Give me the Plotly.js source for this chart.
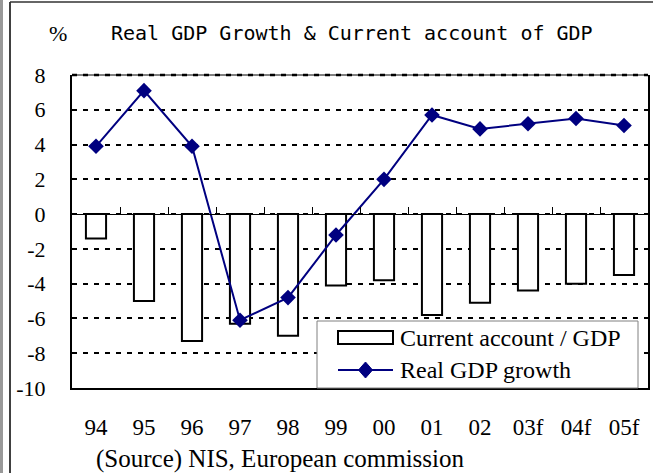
<!DOCTYPE html>
<html>
<head>
<meta charset="utf-8">
<script src="https://cdn.plot.ly/plotly-3.0.1.min.js"></script>
<style>html,body{margin:0;padding:0;background:#fff;}#chart{width:653px;height:473px;}</style>
</head>
<body>
<div id="chart"></div>
<script>
const years = ["94","95","96","97","98","99","00","01","02","03f","04f","05f"];
const currentAccount = [-1.4, -5.0, -7.3, -6.3, -7.0, -4.1, -3.8, -5.8, -5.1, -4.4, -4.0, -3.5];
const gdpGrowth = [3.9, 7.1, 3.9, -6.1, -4.8, -1.2, 2.0, 5.7, 4.9, 5.2, 5.5, 5.1];
const yTicks = [-10, -8, -6, -4, -2, 0, 2, 4, 6, 8];
const seriesNames = ['Current account / GDP', 'Real GDP growth'];

const L = 72, R = 648, T = 75, B = 388;
const W = R - L, H = B - T;
const px = x => (x - L) / W;
const py = y => (B - y) / H;

const NAVY = '#000080';

const traces = [
  {
    type: 'bar', x: years, y: currentAccount, name: seriesNames[0],
    width: 0.42, showlegend: false,
    marker: {color: '#ffffff', line: {color: '#000000', width: 2}}
  },
  {
    type: 'scatter', mode: 'lines+markers', x: years, y: gdpGrowth, name: seriesNames[1],
    showlegend: false,
    line: {color: NAVY, width: 2},
    marker: {symbol: 'diamond', size: 12, color: NAVY}
  },
  {
    type: 'scatter', x: [-0.5, 11.5], y: [0, 0], xaxis: 'x2', mode: 'none',
    showlegend: false, hoverinfo: 'skip'
  }
];

const serif = "'Liberation Serif', 'Times New Roman', serif";

// legend geometry (pixels)
const lg = {x0: 317, x1: 638, y0: 321, y1: 388, symX0: 338, symX1: 393, textX: 398, row1: 338, row2: 370};
const dia = (cx, cy, hw, hh) =>
  `M ${px(cx)},${py(cy - hh)} L ${px(cx + hw)},${py(cy)} L ${px(cx)},${py(cy + hh)} L ${px(cx - hw)},${py(cy)} Z`;

const layout = {
  width: 653, height: 473,
  margin: {l: L, r: 653 - R, t: T, b: 473 - B, pad: 0},
  paper_bgcolor: '#ffffff', plot_bgcolor: '#ffffff',
  font: {family: serif, size: 22, color: '#000'},
  barmode: 'overlay',
  showlegend: false,
  xaxis: {
    type: 'category', categoryarray: years, range: [-0.5, 11.5],
    showline: true, linecolor: '#000', linewidth: 2,
    showgrid: false, zeroline: false,
    ticks: 'outside', ticklen: 17, tickcolor: 'rgba(0,0,0,0)',
    tickfont: {family: serif, size: 23, color: '#000'}
  },
  xaxis2: {
    overlaying: 'x', anchor: 'free', position: 10 / 18,
    range: [-0.5, 11.5], tickmode: 'array',
    tickvals: [0.5,1.5,2.5,3.5,4.5,5.5,6.5,7.5,8.5,9.5,10.5],
    ticks: 'inside', ticklen: 7, tickwidth: 1, tickcolor: '#000',
    showticklabels: false, showline: true, linecolor: '#000', linewidth: 1,
    showgrid: false, zeroline: false
  },
  yaxis: {
    range: [-10, 8], tickmode: 'array', tickvals: yTicks, ticktext: yTicks.map(String),
    showline: true, mirror: true, linecolor: '#000', linewidth: 2,
    showgrid: true, gridcolor: '#000', gridwidth: 2, griddash: '5px,6px',
    zeroline: false,
    ticks: 'outside', ticklen: 20, tickcolor: 'rgba(0,0,0,0)',
    tickfont: {family: serif, size: 22, color: '#000'}
  },
  annotations: [
    {xref: 'paper', yref: 'paper', x: px(58), y: py(33), xanchor: 'center', yanchor: 'middle',
     text: '%', showarrow: false, font: {family: serif, size: 22}},
    {xref: 'paper', yref: 'paper', x: px(109), y: py(33), xanchor: 'left', yanchor: 'middle',
     text: 'Real GDP Growth & Current account of GDP', showarrow: false,
     font: {family: "'DejaVu Sans Mono', monospace", size: 20}},
    {xref: 'paper', yref: 'paper', x: px(94), y: py(459), xanchor: 'left', yanchor: 'middle',
     text: '(Source) NIS, European commission', showarrow: false, font: {family: serif, size: 25}},
    {xref: 'paper', yref: 'paper', x: px(lg.textX), y: py(lg.row1), xanchor: 'left', yanchor: 'middle',
     text: seriesNames[0], showarrow: false, font: {family: serif, size: 24}},
    {xref: 'paper', yref: 'paper', x: px(lg.textX), y: py(lg.row2), xanchor: 'left', yanchor: 'middle',
     text: seriesNames[1], showarrow: false, font: {family: serif, size: 24}}
  ],
  shapes: [
    {type: 'line', xref: 'paper', yref: 'paper', x0: 0, x1: 1, y0: 1, y1: 1,
     line: {color: '#000000', width: 1}},
    {type: 'line', xref: 'paper', yref: 'paper', x0: 0, x1: 1, y0: 1, y1: 1,
     line: {color: '#000000', width: 2.5, dash: '5px,6px'}},
    // legend box
    {type: 'rect', xref: 'paper', yref: 'paper', x0: px(lg.x0), x1: px(lg.x1), y0: py(lg.y1), y1: py(lg.y0),
     fillcolor: '#ffffff', line: {color: '#808080', width: 1}},
    {type: 'rect', xref: 'paper', yref: 'paper', x0: px(lg.symX0), x1: px(lg.symX1), y0: py(lg.row1 + 6), y1: py(lg.row1 - 7),
     fillcolor: '#ffffff', line: {color: '#000000', width: 2}},
    {type: 'line', xref: 'paper', yref: 'paper', x0: px(lg.symX0), x1: px(lg.symX1), y0: py(lg.row2), y1: py(lg.row2),
     line: {color: NAVY, width: 2}},
    {type: 'path', xref: 'paper', yref: 'paper', path: dia((lg.symX0 + lg.symX1) / 2, lg.row2, 7, 8),
     fillcolor: NAVY, line: {color: NAVY, width: 1}},
    // outer frame
    {type: 'line', xref: 'paper', yref: 'paper', x0: px(1.5), x1: px(1.5), y0: py(0), y1: py(473),
     line: {color: '#999999', width: 3}},
    {type: 'line', xref: 'paper', yref: 'paper', x0: px(10), x1: px(10), y0: py(2), y1: py(473),
     line: {color: '#000000', width: 1.5}},
    {type: 'line', xref: 'paper', yref: 'paper', x0: px(10), x1: px(653), y0: py(2), y1: py(2),
     line: {color: '#333333', width: 1.5}}
  ]
};

Plotly.newPlot('chart', traces, layout, {displayModeBar: false, staticPlot: true});
</script>
</body>
</html>
